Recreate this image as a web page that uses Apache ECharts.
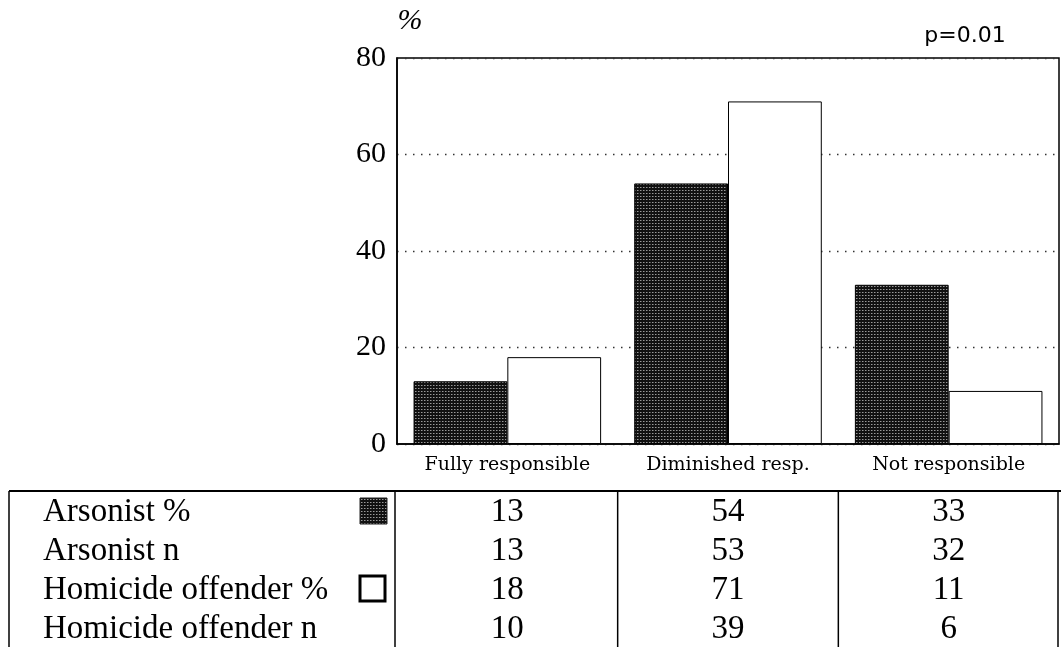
<!DOCTYPE html>
<html>
<head>
<meta charset="utf-8">
<script src="https://cdn.jsdelivr.net/npm/echarts@6/dist/echarts.min.js"></script>
<style>
  html, body { margin:0; padding:0; background:#fff; }
  #chart { width:1061px; height:647px; }
</style>
</head>
<body>
<div id="chart"></div>
<script>
// ===== data =====
const categories  = ['Fully responsible', 'Diminished resp.', 'Not responsible'];
const arsonistPct = [13, 54, 33];
const arsonistN   = [13, 53, 32];
const homicidePct = [18, 71, 11];
const homicideN   = [10, 39, 6];
const yTicks      = [0, 20, 40, 60, 80];
const rowLabels   = ['Arsonist %', 'Arsonist n', 'Homicide offender %', 'Homicide offender n'];
const pValue      = 'p=0.01';

// ===== layout =====
const W = 1061, H = 647;
const plotL = 397, plotR = 1059, plotT = 58, plotB = 444;
const colW  = (plotR - plotL) / categories.length;
const tableTop = 491, tableLeft = 9;
const rowY = [512, 551, 590, 629];
const serif = '"Liberation Serif", "Times New Roman", serif';

// dotted dark texture like the scanned bars
function makePattern(){
  const c = document.createElement('canvas');
  c.width = 3; c.height = 3;
  const g = c.getContext('2d');
  g.fillStyle = '#111';
  g.fillRect(0, 0, 3, 3);
  g.fillStyle = '#9a9a9a';
  g.fillRect(1, 1, 1, 1);
  g.fillStyle = '#555';
  g.fillRect(2, 1, 1, 1);
  return c;
}
const darkFill = { image: makePattern(), repeat: 'repeat' };

// ===== table graphics =====
const graphics = [];
const line = (x1, y1, x2, y2, w) => graphics.push({
  type:'line', shape:{x1, y1, x2, y2}, style:{stroke:'#000', lineWidth:w || 1.5}, silent:true
});
const text = (t, x, y, align, font) => graphics.push({
  type:'text', style:{text:t, x, y, fill:'#000', font, textAlign:align, textVerticalAlign:'middle'}, silent:true
});

line(tableLeft, tableTop, W, tableTop, 2);
line(tableLeft, tableTop, tableLeft, H);
line(plotL - 2, tableTop, plotL - 2, H);
for (let i = 1; i <= categories.length; i++) {
  line(plotL + colW * i - (i === categories.length ? 1 : 0), tableTop, plotL + colW * i - (i === categories.length ? 1 : 0), H);
}

const tableRows = [arsonistPct, arsonistN, homicidePct, homicideN];
rowLabels.forEach((lbl, r) => {
  text(lbl, 43, rowY[r], 'left', '33px ' + serif);
  tableRows[r].forEach((v, c) => {
    text(String(v), plotL + colW * (c + 0.5), rowY[r], 'center', '33px ' + serif);
  });
});

// legend swatches inside the table
graphics.push({ type:'rect', shape:{x:360, y:rowY[0] - 14, width:27, height:26},
  style:{fill:darkFill, stroke:'#222', lineWidth:1}, silent:true });
graphics.push({ type:'rect', shape:{x:360, y:rowY[2] - 14, width:25, height:25},
  style:{fill:'#fff', stroke:'#000', lineWidth:3}, silent:true });

// "%" axis title and p value
text('%', 410, 21, 'center', 'italic 30px ' + serif);
text(pValue, 965, 36, 'center', '22px "DejaVu Sans", sans-serif');

// ===== chart =====
const chart = echarts.init(document.getElementById('chart'), null, { renderer:'canvas' });

chart.setOption({
  animation: false,
  backgroundColor: '#fff',
  grid: {
    left: plotL, right: W - plotR, top: plotT, bottom: H - plotB,
    show: true, borderColor: '#000', borderWidth: 1.5, backgroundColor: 'transparent'
  },
  xAxis: {
    type: 'category',
    data: categories,
    axisTick: { show:false },
    axisLine: { lineStyle:{ color:'#000', width:1.5 } },
    axisLabel: { color:'#000', fontFamily:'"DejaVu Serif", serif', fontSize:19, margin:12 }
  },
  yAxis: {
    type: 'value',
    min: yTicks[0], max: yTicks[yTicks.length - 1], interval: yTicks[1] - yTicks[0],
    axisLine: { show:true, lineStyle:{ color:'#000', width:1.5 } },
    axisTick: { show:false },
    axisLabel: { color:'#000', fontFamily:serif, fontSize:30, margin:11 },
    splitLine: { lineStyle:{ color:'#333', width:1.3, type:[1.5, 6.5] } }
  },
  series: [
    {
      name: 'Arsonist %',
      type: 'bar',
      data: arsonistPct,
      barWidth: '42.5%',
      barGap: '0%',
      itemStyle: { color: darkFill, borderColor:'#000', borderWidth:1 }
    },
    {
      name: 'Homicide offender %',
      type: 'bar',
      data: homicidePct,
      barWidth: '42.5%',
      itemStyle: { color:'#fff', borderColor:'#000', borderWidth:1 }
    }
  ],
  graphic: graphics
});
</script>
</body>
</html>
